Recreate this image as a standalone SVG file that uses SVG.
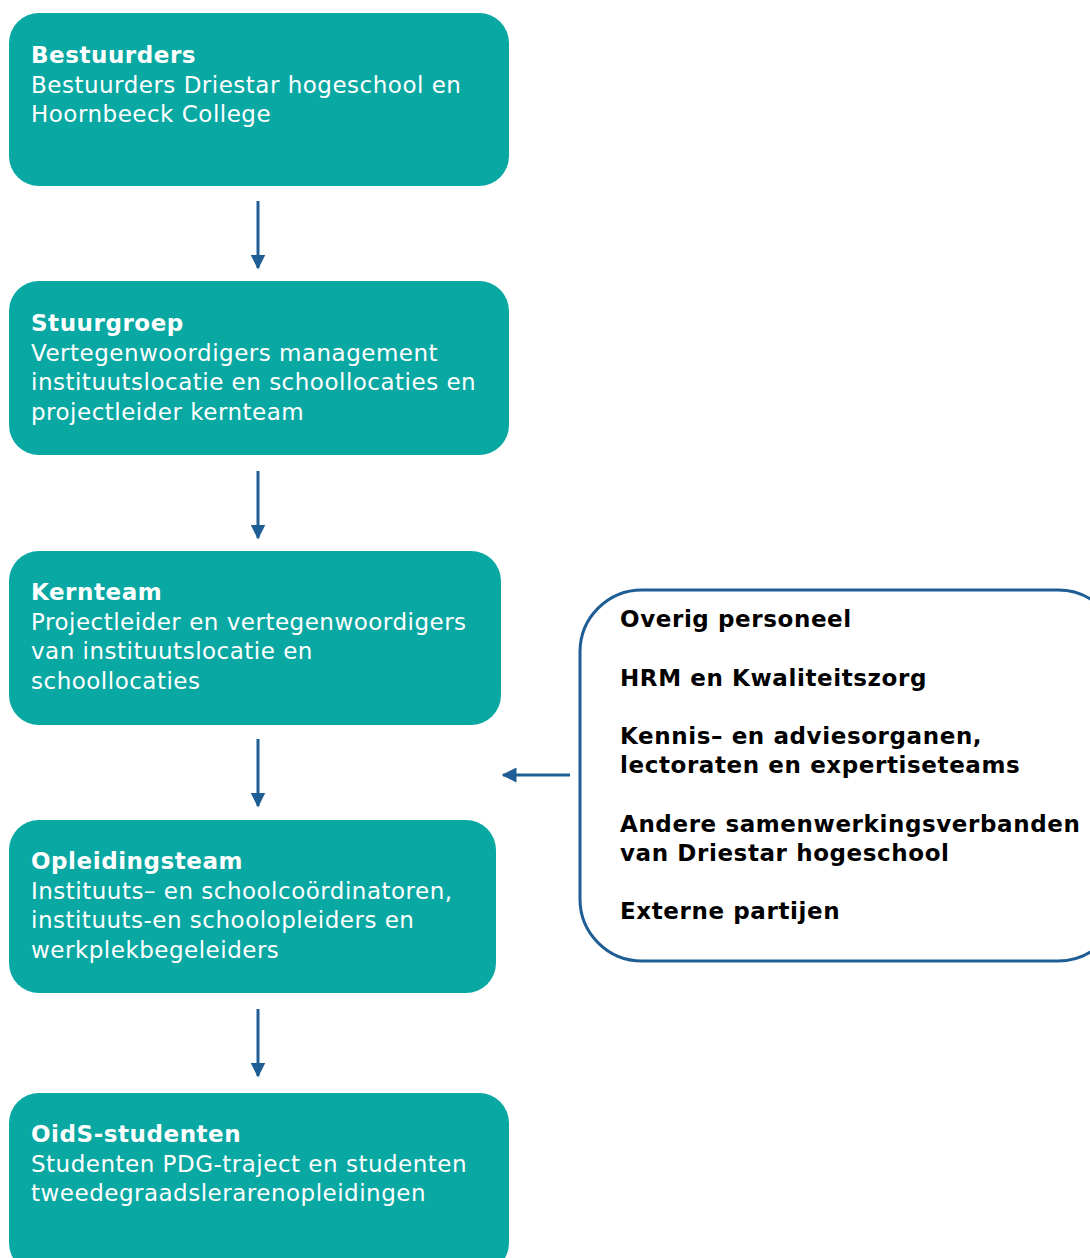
<svg xmlns="http://www.w3.org/2000/svg" width="1090" height="1258" viewBox="0 0 1090 1258">
<defs>
<style>
.box{fill:#09a8a3}
.t{font-family:"DejaVu Sans",Verdana,sans-serif;font-size:23px;letter-spacing:0.5px;fill:#ffffff}
.tb{font-weight:bold;letter-spacing:0.55px}
.k{font-family:"DejaVu Sans",Verdana,sans-serif;font-size:23px;font-weight:bold;letter-spacing:0.6px;fill:#000000}
.c{stroke:#1f5e94;stroke-width:3;fill:none}
</style>
<marker id="ah" viewBox="0 0 10 10" refX="9" refY="5" markerWidth="5" markerHeight="5" orient="auto" markerUnits="strokeWidth">
<path d="M0,0 L10,5 L0,10 z" fill="#1f5e94"/>
</marker>
</defs>
<rect width="1090" height="1258" fill="#ffffff"/>
<g id="bestuurders">
<rect class="box" x="9" y="13" width="500" height="173" rx="30"/>
<text class="t" x="31" y="63"><tspan class="tb">Bestuurders</tspan><tspan x="31" dy="29.5">Bestuurders Driestar hogeschool en</tspan><tspan x="31" dy="29.5">Hoornbeeck College</tspan></text>
</g>
<g id="stuurgroep">
<rect class="box" x="9" y="281" width="500" height="174" rx="30"/>
<text class="t" x="31" y="331"><tspan class="tb">Stuurgroep</tspan><tspan x="31" dy="29.5">Vertegenwoordigers management</tspan><tspan x="31" dy="29.5">instituutslocatie en schoollocaties en</tspan><tspan x="31" dy="29.5">projectleider kernteam</tspan></text>
</g>
<g id="kernteam">
<rect class="box" x="9" y="551" width="492" height="174" rx="30"/>
<text class="t" x="31" y="600"><tspan class="tb">Kernteam</tspan><tspan x="31" dy="29.5">Projectleider en vertegenwoordigers</tspan><tspan x="31" dy="29.5">van instituutslocatie en</tspan><tspan x="31" dy="29.5">schoollocaties</tspan></text>
</g>
<g id="opleidingsteam">
<rect class="box" x="9" y="820" width="487" height="173" rx="30"/>
<text class="t" x="31" y="869"><tspan class="tb">Opleidingsteam</tspan><tspan x="31" dy="29.5">Instituuts– en schoolcoördinatoren,</tspan><tspan x="31" dy="29.5">instituuts-en schoolopleiders en</tspan><tspan x="31" dy="29.5">werkplekbegeleiders</tspan></text>
</g>
<g id="oids">
<rect class="box" x="9" y="1093" width="500" height="180" rx="30"/>
<text class="t" x="31" y="1142"><tspan class="tb">OidS-studenten</tspan><tspan x="31" dy="29.5">Studenten PDG-traject en studenten</tspan><tspan x="31" dy="29.5">tweedegraadslerarenopleidingen</tspan></text>
</g>
<g id="overig">
<rect x="580" y="590" width="540" height="371" rx="62" fill="none" stroke="#1f5e94" stroke-width="3"/>
<text class="k" x="620" y="627">Overig personeel</text>
<text class="k" x="620" y="686">HRM en Kwaliteitszorg</text>
<text class="k" x="620" y="744">Kennis– en adviesorganen,</text>
<text class="k" x="620" y="773">lectoraten en expertiseteams</text>
<text class="k" x="620" y="832">Andere samenwerkingsverbanden</text>
<text class="k" x="620" y="861">van Driestar hogeschool</text>
<text class="k" x="620" y="919">Externe partijen</text>
</g>
<g id="connectors">
<line class="c" x1="258" y1="201" x2="258" y2="268" marker-end="url(#ah)"/>
<line class="c" x1="258" y1="471" x2="258" y2="538" marker-end="url(#ah)"/>
<line class="c" x1="258" y1="739" x2="258" y2="806" marker-end="url(#ah)"/>
<line class="c" x1="258" y1="1009" x2="258" y2="1076" marker-end="url(#ah)"/>
<line class="c" x1="570" y1="775" x2="503" y2="775" marker-end="url(#ah)"/>
</g>
</svg>
